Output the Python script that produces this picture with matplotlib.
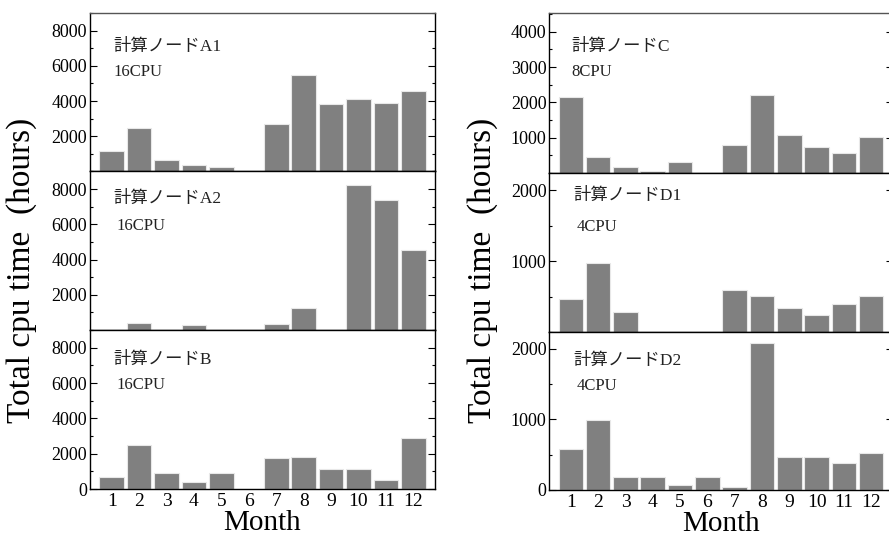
import matplotlib
matplotlib.use("Agg")
import matplotlib.pyplot as plt
from matplotlib.ticker import MultipleLocator, FixedLocator

plt.rcParams['font.family'] = ['Liberation Serif', 'Noto Sans CJK JP']

months = list(range(1, 13))
month_labels = [str(m) for m in months]

node_a1 = [1180, 2450, 650, 370, 260, 0, 2720, 5480, 3820, 4140, 3890, 4590]
node_a2 = [0, 380, 0, 260, 0, 0, 340, 1240, 0, 8210, 7390, 4570]
node_b = [700, 2470, 910, 420, 890, 0, 1740, 1790, 1150, 1130, 530, 2910]
node_c = [2160, 450, 170, 50, 310, 0, 780, 2220, 1070, 750, 580, 1020]
node_d1 = [465, 970, 277, 0, 0, 0, 587, 512, 343, 240, 394, 502]
node_d2 = [587, 990, 183, 183, 75, 188, 42, 2090, 465, 465, 385, 521]

names = ["計算ノードA1", "計算ノードA2", "計算ノードB", "計算ノードC", "計算ノードD1", "計算ノードD2"]
cpus = ["16CPU", "16CPU", "16CPU", "8CPU", "4CPU", "4CPU"]

fig = plt.figure(figsize=(8.89, 5.39), dpi=100)
W, H = 889, 539

def px_axes(x0, x1, ytop, ybot):
    return fig.add_axes([x0 / W, 1 - ybot / H, (x1 - x0) / W, (ybot - ytop) / H])

panels = [
    (node_a1, 90, 435, 13, 171.5, 9000, 1000, [2000, 4000, 6000, 8000], (0.067, 0.785), (0.067, 0.628)),
    (node_a2, 90, 435, 171.5, 330, 9000, 1000, [2000, 4000, 6000, 8000], (0.067, 0.825), (0.078, 0.653)),
    (node_b, 90, 435, 330, 489, 9000, 1000, [0, 2000, 4000, 6000, 8000], (0.067, 0.81), (0.078, 0.653)),
    (node_c, 549.3, 892.7, 13, 173, 4530, 500, [1000, 2000, 3000, 4000], (0.065, 0.788), (0.065, 0.63)),
    (node_d1, 549.3, 892.7, 173, 332, 2240, 500, [1000, 2000], (0.07, 0.853), (0.08, 0.66)),
    (node_d2, 549.3, 892.7, 332, 490, 2240, 500, [0, 1000, 2000], (0.07, 0.815), (0.08, 0.658)),
]

for i, (vals, x0, x1, yt, yb, ymax, mnr, tl, npos, cpos) in enumerate(panels):
    ax = px_axes(x0, x1, yt, yb)
    ax.bar(months, vals, width=0.9, color='#808080', edgecolor='#e8e8e8', linewidth=0.8)
    ax.set_xlim(0.21, 12.79)
    ax.set_ylim(0, ymax)
    ax.yaxis.set_major_locator(FixedLocator(tl))
    ax.yaxis.set_minor_locator(MultipleLocator(mnr))
    ax.tick_params(axis='y', which='both', direction='in', left=True, right=True,
                   labelsize=13, pad=2)
    ax.tick_params(axis='y', which='major', length=5, width=0.8)
    ax.tick_params(axis='y', which='minor', length=2.5, width=0.8)
    ax.set_xticks(months)
    bottom = (i % 3 == 2)
    if bottom:
        ax.set_xticklabels(month_labels)
        ax.tick_params(axis='x', length=0, labelsize=14, pad=3)
        ax.set_xlabel("Month", fontsize=21, labelpad=0)
    else:
        ax.set_xticklabels([])
        ax.tick_params(axis='x', length=0)
    for s in ax.spines.values():
        s.set_linewidth(1.0)
    if i % 3 == 0:
        ax.spines['top'].set_color('#555555')
    ax.text(npos[0], npos[1], names[i], transform=ax.transAxes, fontsize=12.5,
            ha='left', va='center', color='#222222')
    ax.text(cpos[0], cpos[1], cpus[i], transform=ax.transAxes, fontsize=12,
            ha='left', va='center', color='#222222')

fig.text(22 / W, 1 - 270 / H, "Total cpu time  (hours)", rotation=90, fontsize=24,
         ha='center', va='center')
fig.text(483 / W, 1 - 270 / H, "Total cpu time  (hours)", rotation=90, fontsize=24,
         ha='center', va='center')

fig.savefig("out.png", dpi=100)
